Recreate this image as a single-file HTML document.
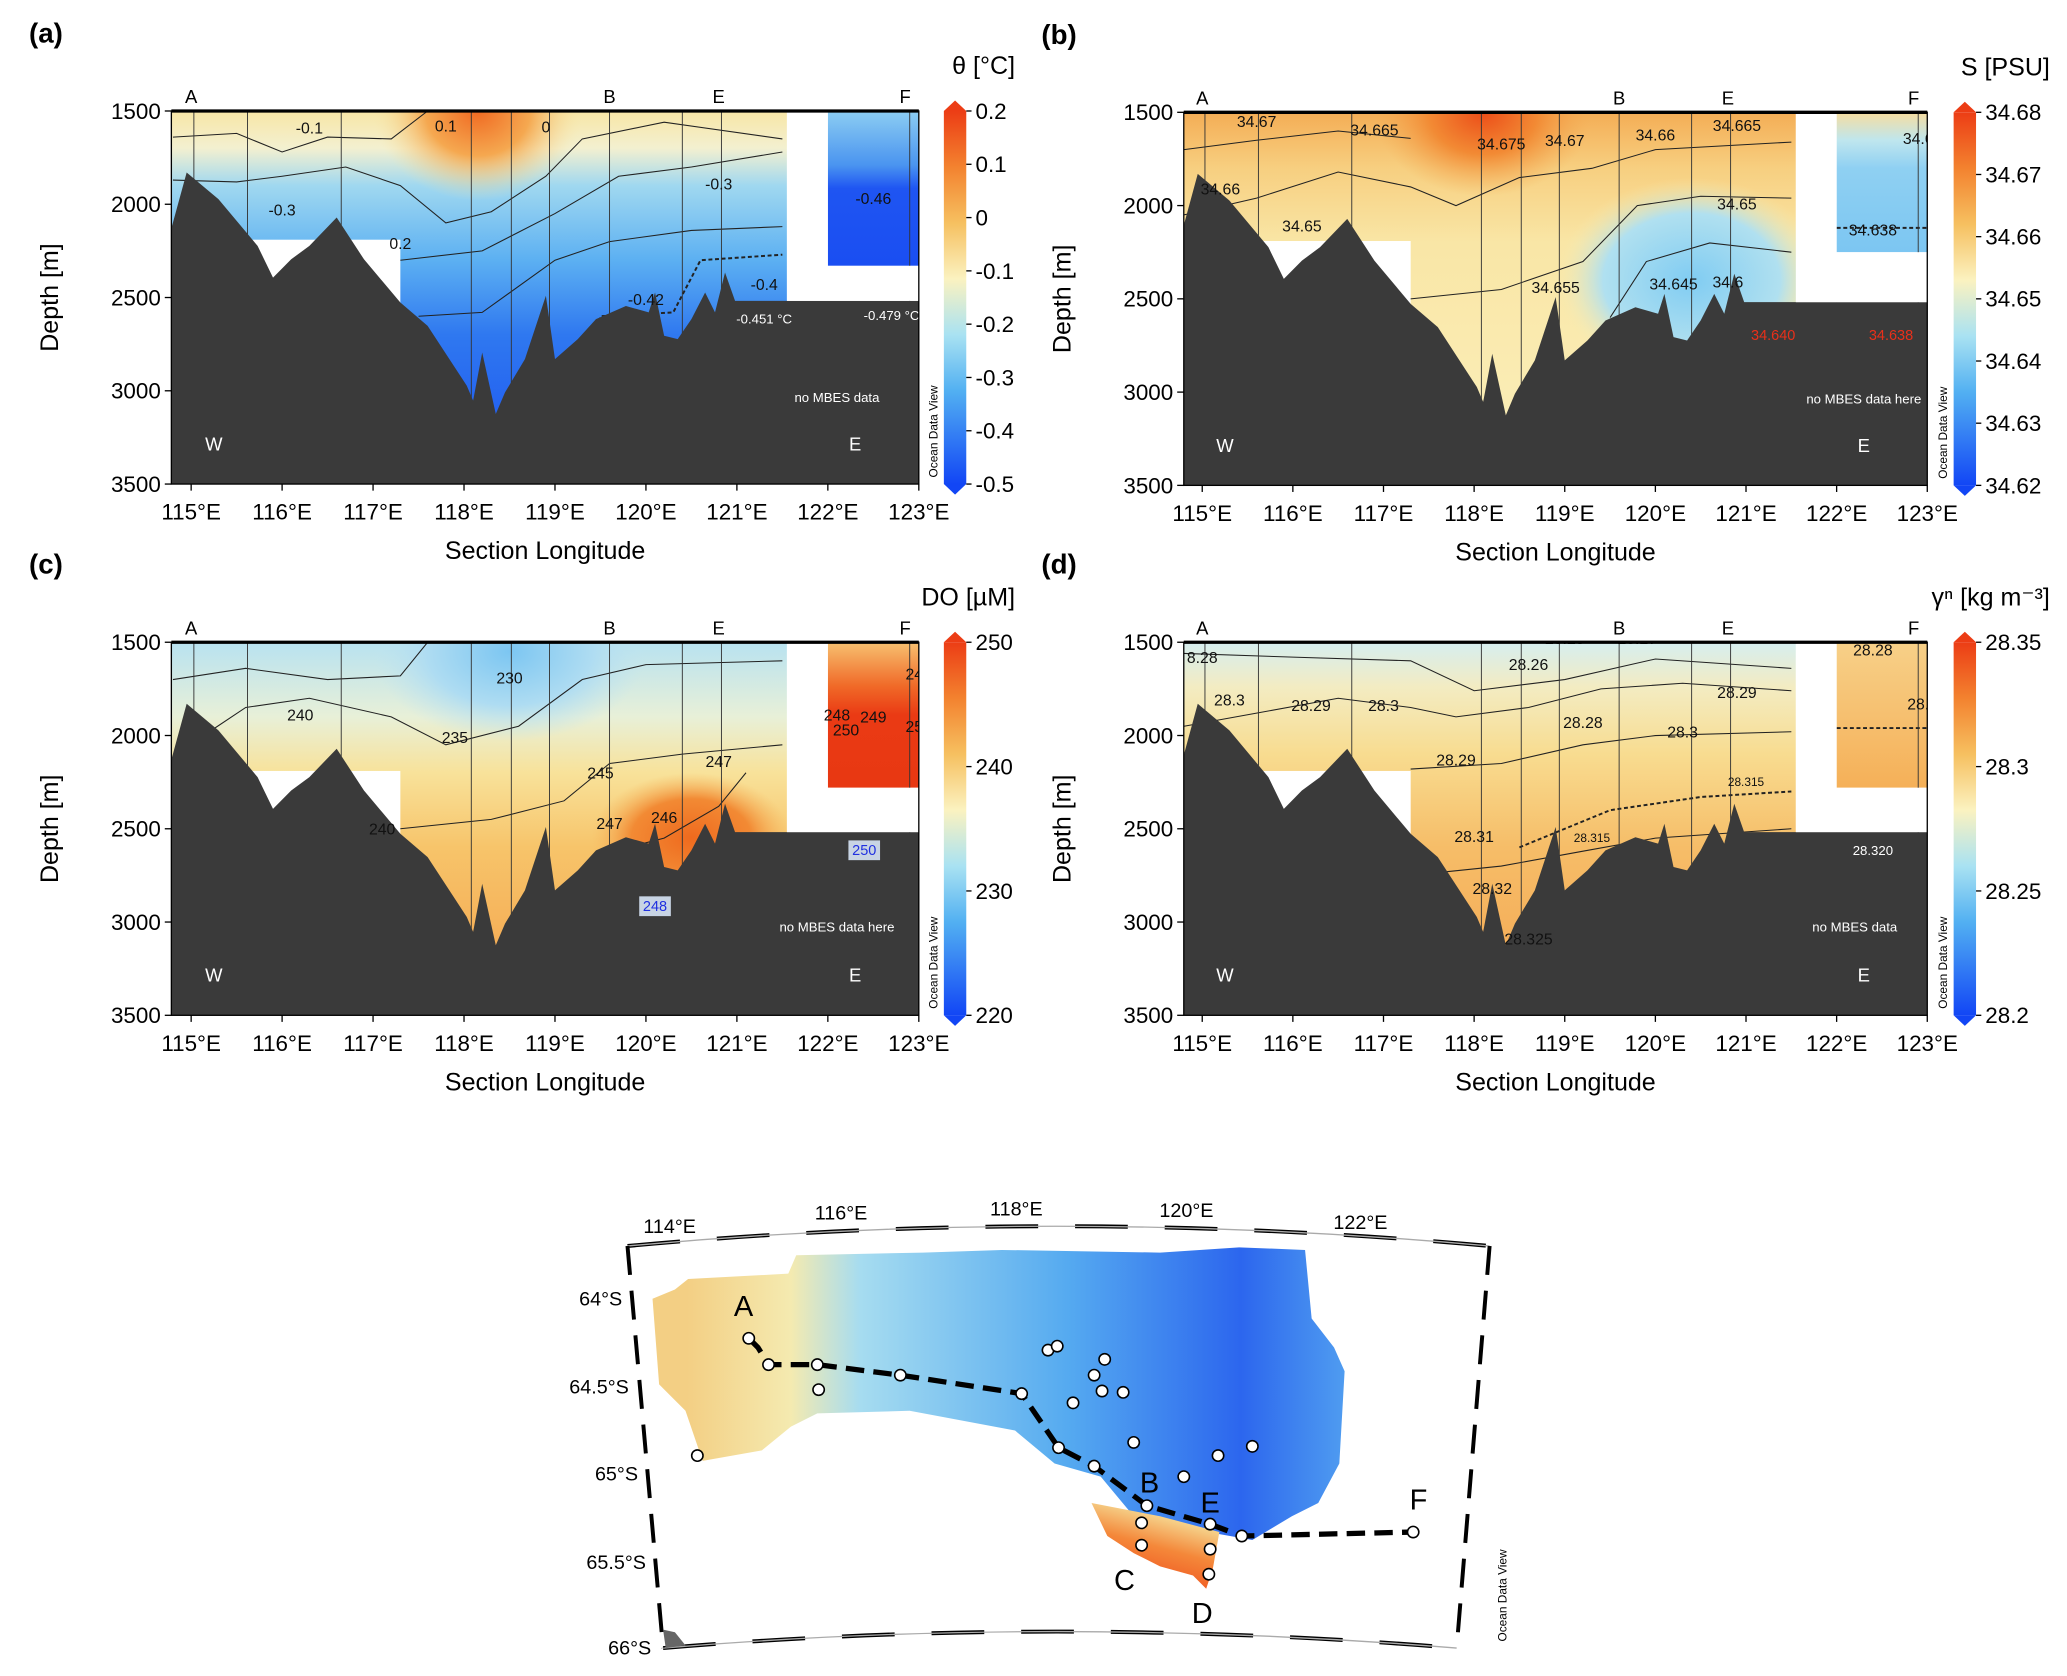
<!DOCTYPE html>
<html><head><meta charset="utf-8"><style>
html,body{margin:0;padding:0;background:#fff}
svg{display:block;font-family:"Liberation Sans",Arial,sans-serif}
</style></head><body>
<svg id="fig" xmlns="http://www.w3.org/2000/svg" width="2067" height="1676" viewBox="0 0 1568 1271">
<defs>
<linearGradient id="cbar" x1="0" y1="0" x2="0" y2="1">
<stop offset="0" stop-color="#ec3d15"/><stop offset="0.15" stop-color="#f3822f"/><stop offset="0.3" stop-color="#f6c060"/><stop offset="0.45" stop-color="#fbf2c0"/><stop offset="0.6" stop-color="#a9e2f2"/><stop offset="0.75" stop-color="#52b0f2"/><stop offset="1" stop-color="#1246f5"/>
</linearGradient>
<linearGradient id="ga" x1="0" y1="0" x2="0" y2="1">
<stop offset="0" stop-color="#f8e6a6"/><stop offset="0.1" stop-color="#f3f0d0"/><stop offset="0.2" stop-color="#a0d8f0"/><stop offset="0.4" stop-color="#5cb0f2"/><stop offset="0.6" stop-color="#2f78f0"/><stop offset="1" stop-color="#1a50f2"/>
</linearGradient>
<radialGradient id="ra"><stop offset="0" stop-color="#f06a22"/><stop offset="0.5" stop-color="#f5a850"/><stop offset="1" stop-color="#f8e6a6" stop-opacity="0"/></radialGradient>
<linearGradient id="gaF" x1="0" y1="0" x2="0" y2="1"><stop offset="0" stop-color="#8ccdf2"/><stop offset="0.35" stop-color="#4a94f0"/><stop offset="0.5" stop-color="#1f55f2"/><stop offset="1" stop-color="#1a4ef2"/></linearGradient>
<linearGradient id="gb" x1="0" y1="0" x2="0" y2="1">
<stop offset="0" stop-color="#f4ad55"/><stop offset="0.15" stop-color="#f7cf80"/><stop offset="0.35" stop-color="#f9e6a6"/><stop offset="1" stop-color="#fbf0bc"/>
</linearGradient>
<radialGradient id="rb"><stop offset="0" stop-color="#ec4d18"/><stop offset="0.5" stop-color="#f28a34"/><stop offset="1" stop-color="#f4ad55" stop-opacity="0"/></radialGradient>
<radialGradient id="rbb"><stop offset="0" stop-color="#80ccf2"/><stop offset="0.65" stop-color="#b0e0f0"/><stop offset="1" stop-color="#f9ecb0" stop-opacity="0"/></radialGradient>
<linearGradient id="gbF" x1="0" y1="0" x2="0" y2="1"><stop offset="0" stop-color="#f6ddA0"/><stop offset="0.2" stop-color="#bfe6ee"/><stop offset="0.4" stop-color="#8fd0f2"/><stop offset="1" stop-color="#7cc6f2"/></linearGradient>
<linearGradient id="gc" x1="0" y1="0" x2="0" y2="1">
<stop offset="0" stop-color="#b8e2f0"/><stop offset="0.2" stop-color="#e8f0d8"/><stop offset="0.35" stop-color="#f8e29a"/><stop offset="0.55" stop-color="#f7c46a"/><stop offset="1" stop-color="#f4a04a"/>
</linearGradient>
<radialGradient id="rc"><stop offset="0" stop-color="#ef6a1e"/><stop offset="0.6" stop-color="#f28a34"/><stop offset="1" stop-color="#f6b860" stop-opacity="0"/></radialGradient>
<radialGradient id="rcb"><stop offset="0" stop-color="#7cc6f2"/><stop offset="0.6" stop-color="#aedcf2"/><stop offset="1" stop-color="#c0e4f0" stop-opacity="0"/></radialGradient>
<linearGradient id="gcF" x1="0" y1="0" x2="0" y2="1"><stop offset="0" stop-color="#f7c070"/><stop offset="0.3" stop-color="#f06a28"/><stop offset="0.5" stop-color="#ea3a14"/><stop offset="1" stop-color="#e83812"/></linearGradient>
<linearGradient id="gd" x1="0" y1="0" x2="0" y2="1">
<stop offset="0" stop-color="#d6eef0"/><stop offset="0.12" stop-color="#f3ecc2"/><stop offset="0.3" stop-color="#f8dc90"/><stop offset="0.55" stop-color="#f6bd68"/><stop offset="1" stop-color="#f4a550"/>
</linearGradient>
<linearGradient id="gdF" x1="0" y1="0" x2="0" y2="1"><stop offset="0" stop-color="#f7d088"/><stop offset="1" stop-color="#f5b058"/></linearGradient>
<linearGradient id="gmap" x1="0" y1="0" x2="1" y2="0">
<stop offset="0.05" stop-color="#f3cf84"/><stop offset="0.2" stop-color="#f4eab0"/><stop offset="0.3" stop-color="#a6dcf0"/><stop offset="0.6" stop-color="#55aaf0"/><stop offset="0.85" stop-color="#2c66ee"/><stop offset="1" stop-color="#4f9cf0"/>
</linearGradient>
<linearGradient id="gred" x1="0" y1="1" x2="0.4" y2="0"><stop offset="0" stop-color="#ee3a12"/><stop offset="0.6" stop-color="#f4883a"/><stop offset="1" stop-color="#f6e6a0"/></linearGradient>
</defs>
<g id="panels"></g>
<g id="map"></g>
</svg>
<script>
// ---- data ----
const lonTicks = [115,116,117,118,119,120,121,122,123];
const depthTicks = [1500,2000,2500,3000,3500];
const stationLons = [115.03,115.62,116.65,118.08,118.52,118.94,119.6,120.4,120.83,122.9];
const bathyLon = [114.78,114.95,115.3,115.73,115.9,116.1,116.3,116.6,116.9,117.3,117.6,118.03,118.1,118.2,118.35,118.45,118.67,118.9,119.0,119.25,119.45,119.78,120.03,120.1,120.2,120.35,120.5,120.65,120.76,120.87,120.98,121.53,123];
const bathyDepth = [2134,1830,1973,2223,2393,2295,2223,2071,2295,2527,2652,2973,3053,2795,3125,3009,2830,2491,2830,2723,2616,2545,2580,2473,2705,2723,2616,2473,2580,2366,2518,2518,2518];
const secLabels = ['A','B','E','F'];
const secLabelLons = [115.0,119.6,120.8,122.85];
const cbTicksA = [0.2,0.1,0,-0.1,-0.2,-0.3,-0.4,-0.5];
const cbTicksB = [34.68,34.67,34.66,34.65,34.64,34.63,34.62];
const cbTicksC = [250,240,230,220];
const cbTicksD = [28.35,28.3,28.25,28.2];

const NS="http://www.w3.org/2000/svg";
const root=document.getElementById('panels');
function el(tag,attrs,parent,txt){const e=document.createElementNS(NS,tag);for(const k in attrs)e.setAttribute(k,attrs[k]);if(txt!==undefined)e.textContent=txt;(parent||root).appendChild(e);return e;}

const panels=[
 {id:'a',L:130,R:697,T:84,B:367,x115:145,x123:697,cb:716,title:'θ [°C]',titleX:770,letter:'(a)',lx:22,ticks:cbTicksA,fill:'ga',fillF:'gaF',Fbot:2330,
  blobs:[['ra',118.15,1500,1.15,480]],
  contours:[[[114.8,1640],[115.5,1620],[116,1720],[116.5,1640],[117.2,1650],[117.6,1500]],
            [[114.8,1870],[115.5,1880],[116,1850],[116.7,1800],[117.3,1900],[117.8,2100],[118.3,2040],[118.9,1850],[119.3,1650],[120.2,1560],[121.5,1650]],
            [[117.3,2300],[118.2,2250],[119,2050],[119.7,1850],[120.5,1800],[121.5,1720]],
            [[117.5,2600],[118.2,2580],[119,2300],[119.6,2200],[120.5,2140],[121.5,2120]]],
  dashed:[[[119.4,2800],[119.5,2600],[120.3,2580],[120.6,2300],[121.5,2270]]],
  labels:[['-0.1',116.3,1620],['0.1',117.8,1610],['0',118.9,1615],['-0.3',120.8,1920],['-0.3',116.0,2060],['-0.42',120.0,2540],['-0.4',121.3,2460],['-0.46',122.5,2000],['0.2',117.3,2240]],
  white:[['-0.451 °C',121.3,2640],['-0.479 °C',122.7,2620],['no MBES data',122.1,3060]]},
 {id:'b',L:898,R:1462,T:85,B:368,x115:912,x123:1462,cb:1482,title:'S [PSU]',titleX:1555,letter:'(b)',lx:790,ticks:cbTicksB,fill:'gb',fillF:'gbF',Fbot:2250,
  blobs:[['rb',118.1,1500,1.2,450],['rbb',120.4,2400,1.5,550]],
  contours:[[[114.8,1700],[115.6,1650],[116.5,1600],[117.3,1640]],
            [[114.8,2050],[115.6,1960],[116.5,1820],[117.3,1900],[117.8,2000],[118.5,1850],[119.3,1800],[120,1700],[121.5,1660]],
            [[117.3,2500],[118.3,2450],[119.2,2300],[119.8,2000],[120.5,1950],[121.5,1960]],
            [[119.5,2600],[119.9,2300],[120.6,2200],[121.5,2250]]],
  dashed:[[[122.0,2120],[122.5,2120],[123,2120]]],
  labels:[['34.67',115.6,1580],['34.665',116.9,1625],['34.675',118.3,1700],['34.67',119.0,1680],['34.66',120.0,1650],['34.665',120.9,1600],['34.66',115.2,1940],['34.65',116.1,2140],['34.65',120.9,2020],['34.655',118.9,2470],['34.645',120.2,2450],['34.638',122.4,2160],['34.6',120.8,2440],['34.6',122.9,1670]],
  red:[['34.640',121.3,2720],['34.638',122.6,2720]],
  white:[['no MBES data here',122.3,3060]]},
 {id:'c',L:130,R:697,T:487,B:770,x115:145,x123:697,cb:716,title:'DO [µM]',titleX:770,letter:'(c)',lx:22,ticks:cbTicksC,fill:'gc',fillF:'gcF',Fbot:2280,
  blobs:[['rc',120.5,2550,1.1,350],['rcb',118.5,1550,1.5,480]],
  contours:[[[114.8,1700],[115.6,1640],[116.5,1700],[117.3,1680],[117.6,1500]],
            [[115.2,1980],[115.6,1850],[116.3,1800],[117.2,1900],[117.8,2050],[118.6,1950],[119.3,1700],[120,1620],[121.5,1600]],
            [[117.3,2500],[118.3,2450],[119.1,2350],[119.6,2150],[120.4,2100],[121.5,2050]],
            [[119.4,2650],[120.2,2550],[120.8,2380],[121.1,2200]]],
  dashed:[],
  labels:[['230',118.5,1720],['240',116.2,1920],['235',117.9,2040],['245',119.5,2230],['247',120.8,2170],['247',119.6,2500],['246',120.2,2470],['240',117.1,2530],['248',122.1,1920],['249',122.5,1930],['250',122.2,2000],['24',122.95,1700],['25',122.95,1980]],
  boxes:[['250',122.4,2640],['248',120.1,2940]],
  white:[['no MBES data here',122.1,3050]]},
 {id:'d',L:898,R:1462,T:487,B:770,x115:912,x123:1462,cb:1482,title:'γⁿ [kg m⁻³]',titleX:1555,letter:'(d)',lx:790,ticks:cbTicksD,fill:'gd',fillF:'gdF',Fbot:2280,
  blobs:[],
  contours:[[[114.8,1560],[116,1580],[117.3,1600],[118,1760],[119,1700],[120,1590],[121.5,1640]],
            [[114.8,1950],[115.6,1880],[116.5,1800],[117.3,1850],[117.8,1900],[118.6,1850],[119.4,1750],[120.3,1720],[121.5,1760]],
            [[117.3,2180],[118.3,2150],[119.2,2050],[120,2000],[121.5,1980]],
            [[117.3,2750],[118.3,2700],[119.2,2620],[120,2550],[121.5,2500]]],
  dashed:[[[118.5,2600],[119.5,2400],[120.5,2330],[121.5,2300]],[[122,1960],[123,1960]]],
  labels:[['8.28',115.0,1610],['28.3',115.3,1840],['28.29',116.2,1870],['28.3',117.0,1870],['28.26',118.6,1650],['28.25',119.0,1510],['28.27',119.8,1510],['28.29',120.9,1800],['28.28',119.2,1960],['28.3',120.3,2010],['28.29',117.8,2160],['28.28',122.4,1570],['28.',122.9,1860],['28.31',118.0,2570],['28.32',118.2,2850],['28.325',118.6,3120]],
  small:[['28.315',121.0,2270],['28.315',119.3,2570]],
  white:[['28.320',122.4,2640],['no MBES data',122.2,3050]]}
];

panels.forEach(p=>{
 const g=el('g',{});
 
 
 const xs=lon=>p.x115+(lon-115)*(p.x123-p.x115)/8;
 const ys=d=>p.T+(d-1500)*(p.B-p.T)/2000;
 const cid='clip'+p.id;
 const cp=el('clipPath',{id:cid},g); el('rect',{x:p.L,y:p.T,width:p.R-p.L,height:p.B-p.T},cp);
 const f=el('g',{'clip-path':'url(#'+cid+')'},g);
 
 
 el('rect',{x:p.L,y:p.T,width:xs(121.55)-p.L,height:p.B-p.T,fill:'url(#'+p.fill+')'},f);
 p.blobs.forEach(b=>{el('ellipse',{cx:xs(b[1]),cy:ys(b[2]),rx:xs(115+b[3])-xs(115),ry:ys(1500+b[4])-ys(1500),fill:'url(#'+b[0]+')'},f);});
 el('rect',{x:xs(122.0),y:p.T,width:p.R-xs(122.0),height:ys(p.Fbot)-p.T,fill:'url(#'+p.fillF+')'},f);
 el('rect',{x:xs(115.55),y:ys(2190),width:xs(117.3)-xs(115.55),height:p.B-ys(2190),fill:'#fff'},f);
 const line=(pts,dash)=>{let d='';pts.forEach((q,i)=>{d+=(i?'L':'M')+xs(q[0]).toFixed(1)+','+ys(q[1]).toFixed(1);});
   const e=el('path',{d:d,fill:'none',stroke:'#222','stroke-width':dash?1.5:0.8,'stroke-dasharray':dash?'3,2':'none'},f);
   };
 p.contours.forEach(c=>line(c,false));
 (p.dashed||[]).forEach(c=>line(c,true));
 stationLons.forEach(s=>{const e=el('line',{x1:xs(s),x2:xs(s),y1:p.T,y2:p.B,stroke:'#333','stroke-width':0.7},f);
   });
 let bd='M'+xs(bathyLon[0])+','+p.B;
 bathyLon.forEach((l,i)=>{bd+='L'+xs(l).toFixed(1)+','+ys(bathyDepth[i]).toFixed(1);});
 bd+='L'+xs(bathyLon[bathyLon.length-1])+','+p.B+'Z';
 const bt=el('path',{d:bd,fill:'#3a3a3a'},f);
 
 el('rect',{x:xs(121.55),y:p.T-1,width:xs(122.0)-xs(121.55),height:ys(2518)-p.T+1,fill:'#fff'},f);
 el('rect',{x:xs(122.0),y:ys(p.Fbot),width:p.R-xs(122.0),height:ys(2518)-ys(p.Fbot),fill:'#fff'},f);
 p.labels.forEach(t=>{const e=el('text',{x:xs(t[1]),y:ys(t[2]),'font-size':12,'text-anchor':'middle',fill:'#111'},f,t[0]);
   });
 (p.small||[]).forEach(t=>{el('text',{x:xs(t[1]),y:ys(t[2]),'font-size':9,'text-anchor':'middle',fill:'#111'},f,t[0]);});
 (p.red||[]).forEach(t=>{el('text',{x:xs(t[1]),y:ys(t[2]),'font-size':11,'text-anchor':'middle',fill:'#e8301a'},f,t[0]);});
 (p.white||[]).forEach(t=>{el('text',{x:xs(t[1]),y:ys(t[2]),'font-size':10,'text-anchor':'middle',fill:'#fff'},f,t[0]);});
 (p.boxes||[]).forEach(t=>{el('rect',{x:xs(t[1])-12,y:ys(t[2])-11,width:24,height:15,fill:'#c8d4e4'},f);
   el('text',{x:xs(t[1]),y:ys(t[2]),'font-size':11,'text-anchor':'middle',fill:'#2030e0'},f,t[0]);});
 el('text',{x:xs(115.25),y:ys(3320),'font-size':14,fill:'#fff','text-anchor':'middle'},f,'W');
 el('text',{x:xs(122.3),y:ys(3320),'font-size':14,fill:'#fff','text-anchor':'middle'},f,'E');
 el('rect',{x:p.L,y:p.T,width:p.R-p.L,height:p.B-p.T,fill:'none',stroke:'#000','stroke-width':1},g);
 el('line',{x1:p.L,x2:p.R,y1:p.T,y2:p.T,stroke:'#000','stroke-width':2.5},g);
 secLabels.forEach((s,i)=>{el('text',{x:xs(secLabelLons[i]),y:p.T-6,'font-size':14,'text-anchor':'middle'},g,s);});
 lonTicks.forEach(l=>{el('line',{x1:xs(l),x2:xs(l),y1:p.B,y2:p.B+5,stroke:'#000'},g);
   const t=el('text',{x:xs(l),y:p.B+27,'font-size':17,'text-anchor':'middle'},g,l+'°E');
   });
 depthTicks.forEach(d=>{el('line',{x1:p.L-5,x2:p.L,y1:ys(d),y2:ys(d),stroke:'#000'},g);
   const t=el('text',{x:p.L-8,y:ys(d)+6,'font-size':17,'text-anchor':'end'},g,d);
   });
 const yt=el('text',{x:0,y:0,'font-size':19,'text-anchor':'middle',transform:'translate('+(p.L-86)+','+((p.T+p.B)/2)+') rotate(-90)'},g,'Depth [m]');
 
 const xt=el('text',{x:(p.L+p.R)/2,y:p.B+57,'font-size':19,'text-anchor':'middle'},g,'Section Longitude');
 
 const lt=el('text',{x:p.lx,y:p.T-52,'font-size':21,'font-weight':'bold'},g,p.letter);
 
 const cb=el('g',{},g);
 
 el('rect',{x:p.cb,y:p.T,width:17,height:p.B-p.T,fill:'url(#cbar)'},cb);
 el('path',{d:'M'+p.cb+','+p.T+'L'+(p.cb+8.5)+','+(p.T-8)+'L'+(p.cb+17)+','+p.T+'Z',fill:'#ec3d15'},cb);
 el('path',{d:'M'+p.cb+','+p.B+'L'+(p.cb+8.5)+','+(p.B+8)+'L'+(p.cb+17)+','+p.B+'Z',fill:'#1246f5'},cb);
 const n=p.ticks.length;
 p.ticks.forEach((v,i)=>{const y=p.T+i*(p.B-p.T)/(n-1);
   el('line',{x1:p.cb+17,x2:p.cb+21,y1:y,y2:y,stroke:'#000'},cb);
   const t=el('text',{x:p.cb+24,y:y+6,'font-size':17},cb,v);
   });
 el('text',{x:p.cb-5,y:p.B-5,'font-size':9,transform:'rotate(-90 '+(p.cb-5)+' '+(p.B-5)+')'},cb,'Ocean Data View');
 const tt=el('text',{x:p.titleX,y:p.T-28,'font-size':19,'text-anchor':'end'},g,p.title);
 
});

// ---- map ----
const M=document.getElementById('map');
const mapRoute=[[568,1015],[575,1022],[583,1035],[620,1035],[683,1043],[775,1057],[803,1098],[830,1112],[870,1142],[918,1156],[942,1165],[1072,1162]];
const mapExtra=[[621,1054],[529,1104],[795,1024],[802,1021],[838,1031],[830,1043],[836,1055],[852,1056],[814,1064],[860,1094],[898,1120],[924,1104],[950,1097],[866,1155],[866,1172],[918,1175],[917,1194]];
el('path',{d:'M495,985L512,978L522,970L598,966L604,952L700,950L760,948L880,950L940,946L990,948L995,1000L1012,1022L1020,1040L1016,1110L1000,1140L980,1150L950,1168L905,1160L860,1150L835,1120L800,1110L770,1085L690,1070L620,1072L600,1082L578,1100L533,1108L520,1070L500,1050Z',fill:'url(#gmap)'},M);
el('path',{d:'M828,1140L880,1150L925,1162L920,1190L915,1205L905,1195L880,1188L860,1178L840,1165Z',fill:'url(#gred)'},M);
el('path',{d:'M476,945Q800,915 1130,945',fill:'none',stroke:'#000','stroke-width':3,'stroke-dasharray':'40,28'},M);
el('path',{d:'M476,945Q800,915 1130,945',fill:'none',stroke:'#aaa','stroke-width':1},M);
el('path',{d:'M503,1250Q800,1225 1105,1250',fill:'none',stroke:'#000','stroke-width':3,'stroke-dasharray':'40,28'},M);
el('path',{d:'M503,1250Q800,1225 1105,1250',fill:'none',stroke:'#aaa','stroke-width':1},M);
el('line',{x1:476,y1:945,x2:503,y2:1250,stroke:'#000','stroke-width':3,'stroke-dasharray':'22,12'},M);
el('line',{x1:1130,y1:945,x2:1105,y2:1250,stroke:'#000','stroke-width':3,'stroke-dasharray':'22,12'},M);
el('path',{d:'M503,1236L512,1238L520,1248L505,1250Z',fill:'#666'},M);
[['114°E',508,935],['116°E',638,925],['118°E',771,922],['120°E',900,923],['122°E',1032,932]].forEach(t=>el('text',{x:t[1],y:t[2],'font-size':15,'text-anchor':'middle'},M,t[0]));
[['64°S',472,990],['64.5°S',477,1057],['65°S',484,1123],['65.5°S',490,1190],['66°S',494,1255]].forEach(t=>el('text',{x:t[1],y:t[2],'font-size':15,'text-anchor':'end'},M,t[0]));
let rd='';mapRoute.forEach((q,i)=>{rd+=(i?'L':'M')+q[0]+','+q[1];});
const rp=el('path',{d:rd,fill:'none',stroke:'#000','stroke-width':4,'stroke-dasharray':'14,7'},M);

mapRoute.concat(mapExtra).forEach(q=>{if(q[0]===575&&q[1]===1022)return;const c=el('circle',{cx:q[0],cy:q[1],r:4.3,fill:'#fff',stroke:'#000','stroke-width':1.2},M);
 });
[['A',564,998],['B',872,1132],['E',918,1147],['F',1076,1145],['C',853,1206],['D',912,1231]].forEach(t=>el('text',{x:t[1],y:t[2],'font-size':22,'text-anchor':'middle'},M,t[0]));
el('text',{x:1143,y:1245,'font-size':9,transform:'rotate(-90 1143 1245)'},M,'Ocean Data View');
</script>
</body></html>
